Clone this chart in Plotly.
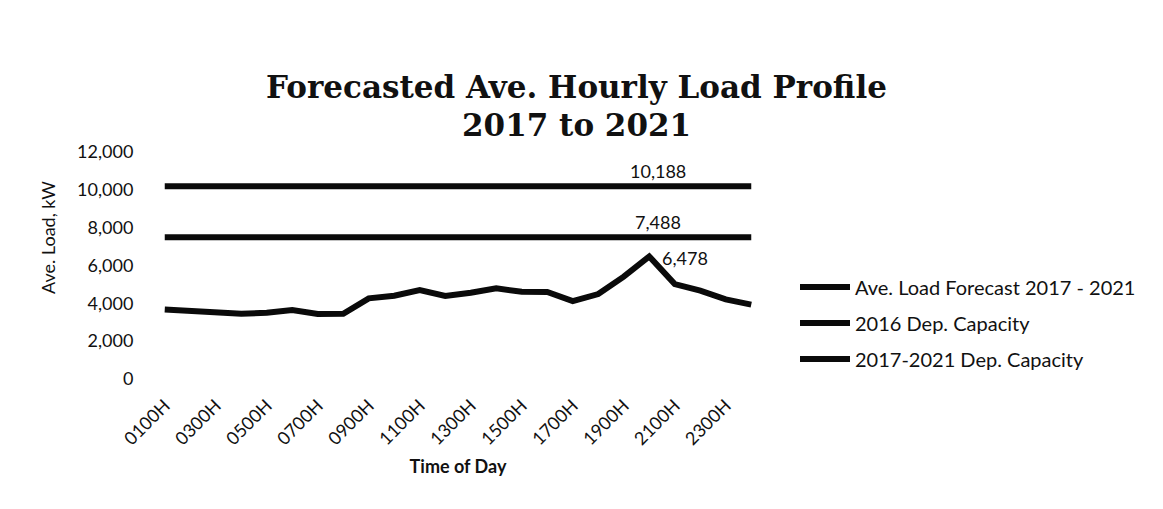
import plotly.graph_objects as go

hours = [f"{h:02d}00H" for h in range(1, 25)]
tick_labels = [f"{h:02d}00H" for h in range(1, 24, 2)]
y_ticks = [0, 2000, 4000, 6000, 8000, 10000, 12000]

load_forecast = [3680, 3590, 3470, 3450, 3500, 3650, 3435, 3450, 4265, 4400, 4700, 4390,
                 4560, 4790, 4615, 4600, 4120, 4490, 5410, 6478, 5020, 4670, 4210, 3930]
cap_2016 = [10188] * 24
cap_2017_2021 = [7488] * 24

series_names = ["Ave. Load Forecast 2017 - 2021", "2016 Dep. Capacity", "2017-2021 Dep. Capacity"]
title_lines = ["Forecasted Ave. Hourly Load Profile", "2017 to 2021"]

# figure sized to fit inside the page body (8px default body margin)
W, H = 1155, 501
L, R, T, B = 144, 756, 144, 371


def py(px):
    """figure pixel row -> paper y"""
    return (B - px) / (B - T)


def px_x(px):
    return (px - L) / (R - L)


fig = go.Figure()
for i, (name, vals) in enumerate(zip(series_names, [load_forecast, cap_2016, cap_2017_2021])):
    fig.add_trace(go.Scatter(x=hours, y=vals, mode="lines", name=name,
                             line=dict(color="#0a0a0a", width=6),
                             legendgroup=f"g{i}"))

# data labels
lab_font = dict(family="Lato, Open Sans, sans-serif", size=18, color="#111")
pk = load_forecast.index(max(load_forecast))
fig.add_annotation(x=hours[pk], y=cap_2016[pk], text=f"{cap_2016[pk]:,}", showarrow=False,
                   xshift=9, yshift=15, font=lab_font)
fig.add_annotation(x=hours[pk], y=cap_2017_2021[pk], text=f"{cap_2017_2021[pk]:,}", showarrow=False,
                   xshift=9, yshift=15, font=lab_font)
fig.add_annotation(x=hours[pk], y=load_forecast[pk], text=f"{load_forecast[pk]:,}", showarrow=False,
                   xshift=36, yshift=-2, font=lab_font)

# title (two lines, tight line spacing)
title_font = dict(family="DejaVu Serif, serif", size=31, color="#111")
for txt, cy in zip(title_lines, [79, 117]):
    fig.add_annotation(xref="paper", yref="paper", x=px_x(568), y=py(cy), text=f"<b>{txt}</b>",
                       showarrow=False, xanchor="center", yanchor="middle", font=title_font)

# y-axis title
fig.add_annotation(xref="paper", yref="paper", x=px_x(40), y=py(230), text="Ave. Load, kW",
                   textangle=-90, showarrow=False, xanchor="center", yanchor="middle",
                   font=dict(family="Lato, Open Sans, sans-serif", size=18, color="#111"))

fig.update_layout(
    width=W, height=H,
    margin=dict(l=L, r=W - R, t=T, b=H - B, pad=0),
    paper_bgcolor="white", plot_bgcolor="white",
    font=dict(family="Lato, Open Sans, sans-serif", size=18, color="#111"),
    showlegend=True,
    legend=dict(x=px_x(787), xanchor="left", y=py(315), yanchor="middle",
                font=dict(size=20), itemwidth=50, tracegroupgap=7, bgcolor="rgba(0,0,0,0)"),
    xaxis=dict(type="category", categoryorder="array", categoryarray=hours,
               range=[-0.5, len(hours) - 0.5],
               tickmode="array", tickvals=tick_labels, ticktext=tick_labels,
               tickangle=-45, showgrid=False, showline=False, zeroline=False,
               ticks="outside", ticklen=8, tickcolor="rgba(0,0,0,0)",
               tickfont=dict(size=18),
               title=dict(text="<b>Time of Day</b>", font=dict(size=18), standoff=12)),
    yaxis=dict(range=[0, 12000], tickvals=y_ticks,
               tickformat=",d", showgrid=False, showline=False, zeroline=False,
               ticks="outside", ticklen=14, tickcolor="rgba(0,0,0,0)",
               tickfont=dict(size=18)),
)

fig.write_html("out.html")
